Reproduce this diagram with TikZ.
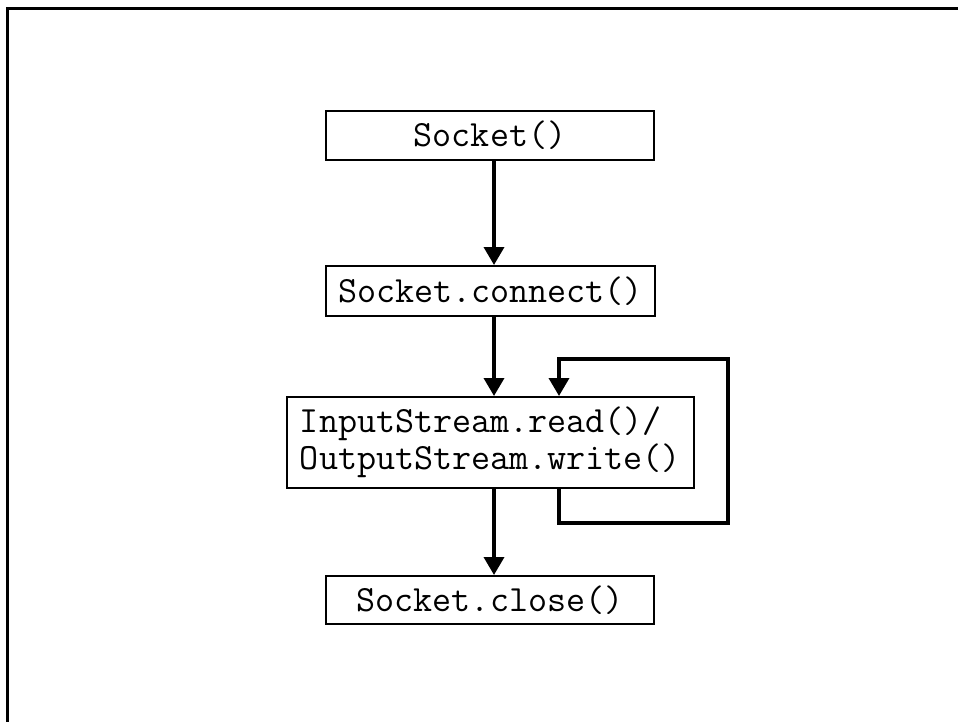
\documentclass[tikz,border=0pt]{standalone}
\usetikzlibrary{arrows.meta}
\begin{document}
\begin{tikzpicture}[x=1pt,y=-1pt,
  box/.style={draw, line width=2pt, inner sep=0pt, align=left,
    font=\ttfamily\fontsize{37}{37}\selectfont},
  flow/.style={line width=3.6pt, line join=miter,
    -{Triangle[width=20pt,length=18pt]}}]
\useasboundingbox (0,0) rectangle (958,722);
% frame
\draw[line width=3.2pt] (7.5,722) -- (7.5,8.5) -- (958,8.5);
% steps
\node[box, minimum width=328pt, minimum height=49pt] (sock) at (490,135.5) {Socket()};
\node[box, minimum width=329pt, minimum height=50pt] (conn) at (490.5,291) {Socket.connect()};
\node[box, minimum width=407pt, minimum height=91pt] (io) at (490.5,442.5) {InputStream.read()/\\OutputStream.write()};
\node[box, minimum width=328pt, minimum height=48pt] (close) at (490,600) {Socket.close()};
% connector axes
\coordinate (ax) at (494,0);
\coordinate (lx) at (559,0);
\coordinate (rx) at (728,0);
\coordinate (lb) at (0,523);
\coordinate (lt) at (0,359);
\draw[flow] (ax |- sock.south) -- (ax |- conn.north);
\draw[flow] (ax |- conn.south) -- (ax |- io.north);
\draw[flow] (ax |- io.south) -- (ax |- close.north);
% repeat loop
\draw[flow] (lx |- io.south) -- (lx |- lb) -- (rx |- lb) -- (rx |- lt) -- (lx |- lt) -- (lx |- io.north);
\end{tikzpicture}
\end{document}
